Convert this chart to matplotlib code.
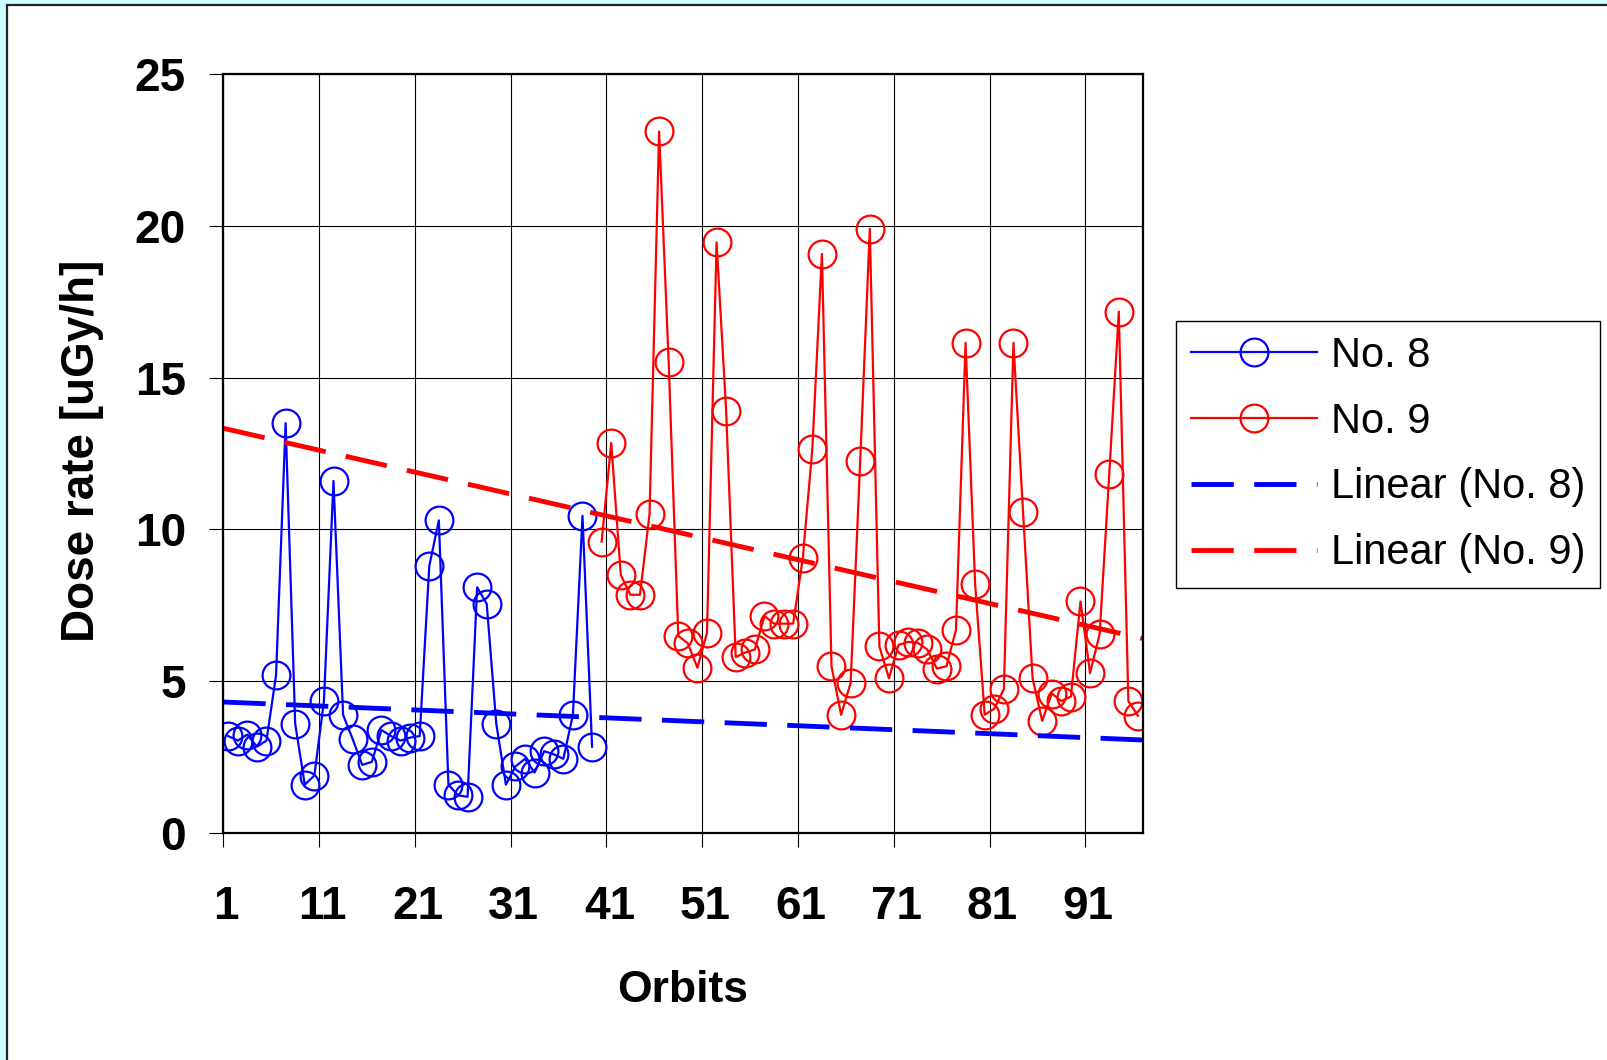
import matplotlib.pyplot as plt
from matplotlib.patches import Rectangle
from matplotlib.transforms import ScaledTranslation

plt.rcParams['font.family'] = ['Liberation Sans', 'DejaVu Sans']

# Dose rate per orbit, detector No. 8 (orbits 1-39) and No. 9 (orbits 40-96)
orbits_8 = list(range(1, 40))
dose_8 = [3.2, 3.05, 3.25, 2.85, 3.05, 5.2, 13.5, 3.6, 1.6, 1.9,
          4.35, 11.6, 3.9, 3.1, 2.25, 2.35, 3.4, 3.2, 3.05, 3.15,
          3.2, 8.8, 10.3, 1.6, 1.25, 1.2, 8.1, 7.55, 3.6, 1.6,
          2.2, 2.45, 2.0, 2.7, 2.6, 2.45, 3.9, 10.45, 2.85]

orbits_9 = list(range(40, 97))
dose_9 = [9.6, 12.85, 8.5, 7.85, 7.85, 10.5, 23.1, 15.5, 6.5, 6.25,
          5.45, 6.6, 19.45, 13.9, 5.8, 5.95, 6.05, 7.15, 6.9, 6.9,
          6.9, 9.05, 12.65, 19.07, 5.5, 3.9, 4.95, 12.27, 19.9, 6.15,
          5.1, 6.2, 6.3, 6.27, 6.05, 5.42, 5.5, 6.7, 16.14, 8.2,
          3.9, 4.1, 4.75, 16.14, 10.59, 5.1, 3.7, 4.6, 4.35, 4.5,
          7.63, 5.27, 6.56, 11.81, 17.17, 4.35, 3.87]

# linear trend lines (values at both ends of the orbit axis)
trend_x = [0.5, 96.5]
trend_8 = [4.32, 3.07]
trend_9 = [13.33, 6.41]

tick_labels = ['1', '11', '21', '31', '41', '51', '61', '71', '81', '91']

fig = plt.figure(figsize=(16.07, 10.6), dpi=100)
fig.patch.set_facecolor('#CCFFFF')
fig.add_artist(Rectangle((7 / 1607, -0.05), 1.0, 1055 / 1060 + 0.05,
                         transform=fig.transFigure, facecolor='white',
                         edgecolor='#222222', linewidth=1.6, zorder=-1))

ax = fig.add_axes([0.139, 0.2139, 0.5721, 0.7165])
ax.set_facecolor('white')

ax.plot(orbits_8, dose_8, color='#0000FF', lw=1.6, marker='o', ms=20,
        mfc='none', mew=1.6, label='No. 8')
ax.plot(orbits_9, dose_9, color='#FF0000', lw=1.6, marker='o', ms=20,
        mfc='none', mew=1.6, label='No. 9')
ax.plot(trend_x, trend_8, color='#0000FF', lw=3.5, dashes=(8.7, 4.2),
        dash_capstyle='butt', label='Linear (No. 8)')
ax.plot(trend_x, trend_9, color='#FF0000', lw=3.5, dashes=(8.7, 4.2),
        dash_capstyle='butt', label='Linear (No. 9)')

ax.set_xlim(0.5, 96.5)
ax.set_ylim(0, 25)
ax.set_xticks([0.5 + 10 * i for i in range(len(tick_labels))])
ax.set_xticklabels(tick_labels)
ax.set_yticks([0, 5, 10, 15, 20, 25])

ax.set_axisbelow(True)
ax.grid(True, color='black', linewidth=0.8)

ax.tick_params(axis='both', direction='out', length=10, width=0.8, labelsize=33)
ax.tick_params(axis='x', pad=27)
ax.tick_params(axis='y', pad=17)
shift = ScaledTranslation(3 / 100, 0, fig.dpi_scale_trans)
for lab in ax.get_xticklabels():
    lab.set_fontweight('bold')
    lab.set_transform(lab.get_transform() + shift)
for lab in ax.get_yticklabels():
    lab.set_fontweight('bold')

for sp in ax.spines.values():
    sp.set_linewidth(1.6)
    sp.set_color('black')

ax.set_xlabel('Orbits', fontsize=32, fontweight='bold')
ax.set_ylabel('Dose rate [uGy/h]', fontsize=33, fontweight='bold')
ax.xaxis.set_label_coords(0.5, -0.18)
ax.yaxis.set_label_coords(-0.13, 0.503)

leg = ax.legend(loc='upper left', bbox_to_anchor=(1175.5 / 1607, 1 - 320.8 / 1060),
                bbox_transform=fig.transFigure, borderaxespad=0, fontsize=30,
                handlelength=3.03, handletextpad=0.34, labelspacing=0.62,
                borderpad=0.36, numpoints=1, fancybox=False, framealpha=1)
leg.get_frame().set_edgecolor('black')
leg.get_frame().set_linewidth(1.0)

fig.savefig('out.png', dpi=100)
